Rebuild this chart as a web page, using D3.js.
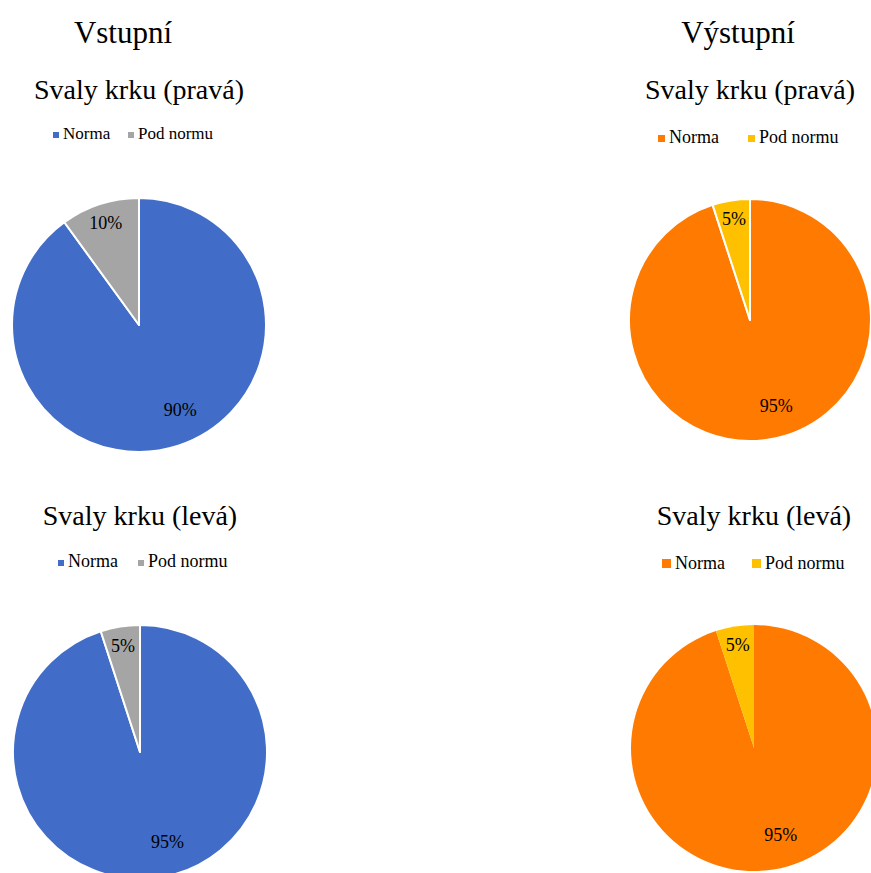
<!DOCTYPE html>
<html lang="cs">
<head>
    <meta charset="UTF-8">
    <title>Svaly krku</title>
    <script src="https://d3js.org/d3.v7.min.js"></script>
    <style>
        body { margin: 0; background: #fff; }
        text { font-family: "Liberation Serif", "Times New Roman", serif; fill: #000; }
    </style>
</head>
<body>
    <svg class="svgs" width="871" height="873"></svg>

    <script>
        // data
        const headers = ['Vstupní', 'Výstupní'];
        const categories = ['Norma', 'Pod normu'];
        const titles = ['Svaly krku (pravá)', 'Svaly krku (pravá)', 'Svaly krku (levá)', 'Svaly krku (levá)'];
        const vstupniPrava = [90, 10];
        const vystupniPrava = [95, 5];
        const vstupniLeva = [95, 5];
        const vystupniLeva = [95, 5];
        const vstupniColors = ['#416DC8', '#A5A5A5'];
        const vystupniColors = ['#FF7A00', '#FFC000'];

        const svg = d3.select('.svgs');

        // layout of the four pies (centre, radius, title / legend placement)
        const panels = [
            { values: vstupniPrava, colors: vstupniColors, title: titles[0], cx: 139, cy: 325, r: 127,
              titleY: 99, legY: 139, legX: 53, legGap: 75, font: 17, sq: 6, stroke: 2 },
            { values: vystupniPrava, colors: vystupniColors, title: titles[1], cx: 750, cy: 320, r: 121,
              titleY: 99, legY: 143, legX: 658, legGap: 90, font: 18, sq: 7, stroke: 2 },
            { values: vstupniLeva, colors: vstupniColors, title: titles[2], cx: 140, cy: 752, r: 127,
              titleY: 525, legY: 567, legX: 58, legGap: 80, font: 18, sq: 6, stroke: 2 },
            { values: vystupniLeva, colors: vystupniColors, title: titles[3], cx: 754, cy: 748, r: 123,
              titleY: 525, legY: 569, legX: 662, legGap: 90, font: 18, sq: 9, stroke: 0 }
        ];

        // column headers
        svg.selectAll('.header')
            .data(headers)
            .join('text')
            .attr('class', 'header')
            .attr('x', (d, i) => i === 0 ? 123 : 738)
            .attr('y', 43)
            .attr('text-anchor', 'middle')
            .style('font-size', '31px')
            .text(d => d);

        const pie = d3.pie().sort(null).value(d => d);

        panels.forEach(p => {
            const g = svg.append('g');

            g.append('text')
                .attr('x', p.cx)
                .attr('y', p.titleY)
                .attr('text-anchor', 'middle')
                .style('font-size', '28px')
                .text(p.title);

            // legend
            const leg = g.selectAll('.leg')
                .data(categories)
                .join('g')
                .attr('transform', (d, i) => `translate(${p.legX + i * p.legGap}, ${p.legY})`);
            leg.append('rect')
                .attr('x', 0)
                .attr('y', -p.sq - 1)
                .attr('width', p.sq)
                .attr('height', p.sq)
                .attr('fill', (d, i) => p.colors[i]);
            leg.append('text')
                .attr('x', p.sq + 4)
                .attr('y', 0)
                .style('font-size', p.font + 'px')
                .text(d => d);

            // pie
            const arcs = pie(p.values);
            const arc = d3.arc().innerRadius(0).outerRadius(p.r);
            const total = d3.sum(p.values);

            const pg = g.append('g').attr('transform', `translate(${p.cx}, ${p.cy})`);
            pg.selectAll('path')
                .data(arcs)
                .join('path')
                .attr('d', arc)
                .attr('fill', (d, i) => p.colors[i])
                .attr('stroke', '#fff')
                .attr('stroke-width', p.stroke)
                .attr('stroke-linejoin', 'round');

            pg.selectAll('.lbl')
                .data(arcs)
                .join('text')
                .attr('class', 'lbl')
                .attr('transform', d => {
                    const big = d.data / total > 0.5;
                    let a = (d.startAngle + d.endAngle) / 2;
                    if (big) a -= 0.14; // excel nudges the big label a bit
                    const rr = p.r * (big ? 0.74 : 0.85);
                    return `translate(${Math.sin(a) * rr}, ${-Math.cos(a) * rr})`;
                })
                .attr('text-anchor', 'middle')
                .attr('dy', '0.35em')
                .style('font-size', '18px')
                .text(d => Math.round(d.data / total * 100) + '%');
        });
    </script>
</body>
</html>
